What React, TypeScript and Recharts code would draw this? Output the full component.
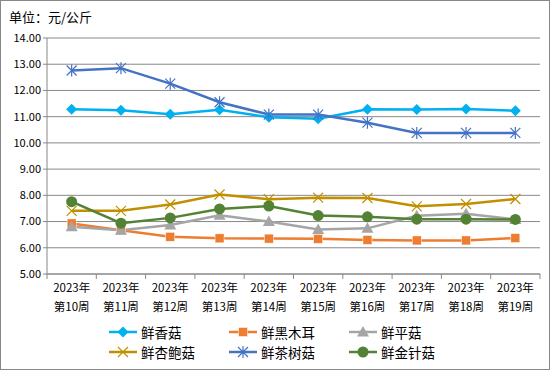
import React from "react";
import { LineChart, Line, XAxis, YAxis, CartesianGrid } from "recharts";

const weeks = ["第10周", "第11周", "第12周", "第13周", "第14周", "第15周", "第16周", "第17周", "第18周", "第19周"];
const year = "2023年";
const xianggu = [11.28, 11.24, 11.09, 11.26, 10.98, 10.92, 11.28, 11.27, 11.29, 11.23];
const heimuer = [6.93, 6.67, 6.42, 6.36, 6.35, 6.34, 6.3, 6.28, 6.28, 6.37];
const pinggu = [6.8, 6.67, 6.87, 7.24, 7.0, 6.7, 6.74, 7.22, 7.3, 7.08];
const xingbaogu = [7.41, 7.41, 7.65, 8.03, 7.85, 7.91, 7.9, 7.58, 7.67, 7.86];
const chashugu = [12.76, 12.85, 12.26, 11.55, 11.08, 11.08, 10.77, 10.38, 10.38, 10.38];
const jinzhengu = [7.76, 6.94, 7.14, 7.48, 7.59, 7.23, 7.18, 7.09, 7.09, 7.08];
const yTicks = [5, 6, 7, 8, 9, 10, 11, 12, 13, 14];

const series = [
  { key: "xianggu", name: "鲜香菇", color: "#00B0F0", shape: "diamond", values: xianggu },
  { key: "heimuer", name: "鲜黑木耳", color: "#ED7D31", shape: "square", values: heimuer },
  { key: "pinggu", name: "鲜平菇", color: "#A5A5A5", shape: "triangle", values: pinggu },
  { key: "xingbaogu", name: "鲜杏鲍菇", color: "#C09000", shape: "cross", values: xingbaogu },
  { key: "chashugu", name: "鲜茶树菇", color: "#4472C4", shape: "star", values: chashugu },
  { key: "jinzhengu", name: "鲜金针菇", color: "#548235", shape: "circle", values: jinzhengu },
];

const data = weeks.map((w, i) => {
  const row: any = { week: w };
  series.forEach((s) => (row[s.key] = s.values[i]));
  return row;
});

const FONT = "'Noto Sans CJK SC', 'Noto Sans', sans-serif";
const PLOT_LEFT = 46;
const PLOT_RIGHT = 539;
const HALF_BAND = (PLOT_RIGHT - PLOT_LEFT) / 20;

function Marker({ shape, color, cx, cy }: { shape: string; color: string; cx: number; cy: number }) {
  switch (shape) {
    case "diamond":
      return <path d={`M${cx},${cy - 5.5}L${cx + 5.5},${cy}L${cx},${cy + 5.5}L${cx - 5.5},${cy}Z`} fill={color} />;
    case "square":
      return <rect x={cx - 4.5} y={cy - 4.5} width={9} height={9} fill={color} stroke="#fff" strokeWidth={0.5} />;
    case "triangle":
      return <path d={`M${cx},${cy - 6}L${cx + 6},${cy + 4.5}L${cx - 6},${cy + 4.5}Z`} fill={color} />;
    case "cross":
      return (
        <path d={`M${cx - 5},${cy - 5}L${cx + 5},${cy + 5}M${cx - 5},${cy + 5}L${cx + 5},${cy - 5}`} stroke={color} strokeWidth={1.2} fill="none" />
      );
    case "star":
      return (
        <path
          d={`M${cx - 5},${cy - 5}L${cx + 5},${cy + 5}M${cx - 5},${cy + 5}L${cx + 5},${cy - 5}M${cx},${cy - 6}L${cx},${cy + 6}`}
          stroke={color}
          strokeWidth={1.2}
          fill="none"
        />
      );
    case "circle":
    default:
      return <circle cx={cx} cy={cy} r={5.5} fill={color} />;
  }
}

const makeDot = (shape: string, color: string) => (props: any) => {
  const { cx, cy, index } = props;
  if (cx == null || cy == null) return <g key={index} />;
  return (
    <g key={`${shape}-${index}`}>
      <Marker shape={shape} color={color} cx={cx} cy={cy} />
    </g>
  );
};

const XTick = (props: any) => {
  const { x, y, payload, index } = props;
  return (
    <g>
      <line x1={x - HALF_BAND} y1={y - 8} x2={x - HALF_BAND} y2={y - 3} stroke="#888" />
      {index === weeks.length - 1 && <line x1={x + HALF_BAND} y1={y - 8} x2={x + HALF_BAND} y2={y - 3} stroke="#888" />}
      <text x={x} y={y + 10} textAnchor="middle" fontSize={11.5} fill="#000" fontFamily={FONT}>
        {year}
      </text>
      <text x={x} y={y + 29} textAnchor="middle" fontSize={11.5} fill="#000" fontFamily={FONT}>
        {payload.value}
      </text>
    </g>
  );
};

export default function App() {
  const legendCols = [108, 228, 348];
  return (
    <div
      style={{
        position: "absolute",
        left: 0,
        top: 0,
        width: 550,
        height: 370,
        boxSizing: "border-box",
        border: "1px solid #888",
        background: "#fff",
        fontFamily: FONT,
      }}
    >
      <div style={{ position: "absolute", left: 0, top: 0 }}>
        <LineChart width={550} height={370} data={data} margin={{ top: 37, right: 550 - PLOT_RIGHT, left: 0, bottom: 67 }}>
          <CartesianGrid horizontal vertical={false} stroke="#888" strokeWidth={1} />
          <XAxis
            dataKey="week"
            height={30}
            padding={{ left: HALF_BAND, right: HALF_BAND }}
            stroke="#888"
            tickLine={false}
            tick={<XTick />}
            interval={0}
          />
          <YAxis
            width={PLOT_LEFT}
            domain={[5, 14]}
            ticks={yTicks}
            stroke="#888"
            tickSize={4}
            tickFormatter={(v: number) => v.toFixed(2)}
            tick={{ fontSize: 11, fill: "#000", fontFamily: FONT }}
          />
          {series.map((s) => (
            <Line
              key={s.key}
              dataKey={s.key}
              name={s.name}
              stroke={s.color}
              strokeWidth={2.5}
              dot={makeDot(s.shape, s.color)}
              activeDot={false}
              isAnimationActive={false}
            />
          ))}
        </LineChart>
      </div>
      <div style={{ position: "absolute", left: 8, top: 6, fontSize: 13, color: "#000" }}>单位：元/公斤</div>
      {series.map((s, i) => {
        const col = i % 3;
        const row = Math.floor(i / 3);
        const lx = legendCols[col];
        const ly = 331 + row * 20;
        return (
          <div key={s.key} style={{ position: "absolute", left: lx, top: ly - 10, height: 20, display: "flex", alignItems: "center" }}>
            <svg width={28} height={20} style={{ display: "block" }}>
              <line x1={0} y1={10} x2={28} y2={10} stroke={s.color} strokeWidth={2.5} />
              <Marker shape={s.shape} color={s.color} cx={14} cy={10} />
            </svg>
            <span style={{ marginLeft: 4, fontSize: 13.5, color: "#000", whiteSpace: "nowrap" }}>{s.name}</span>
          </div>
        );
      })}
    </div>
  );
}
